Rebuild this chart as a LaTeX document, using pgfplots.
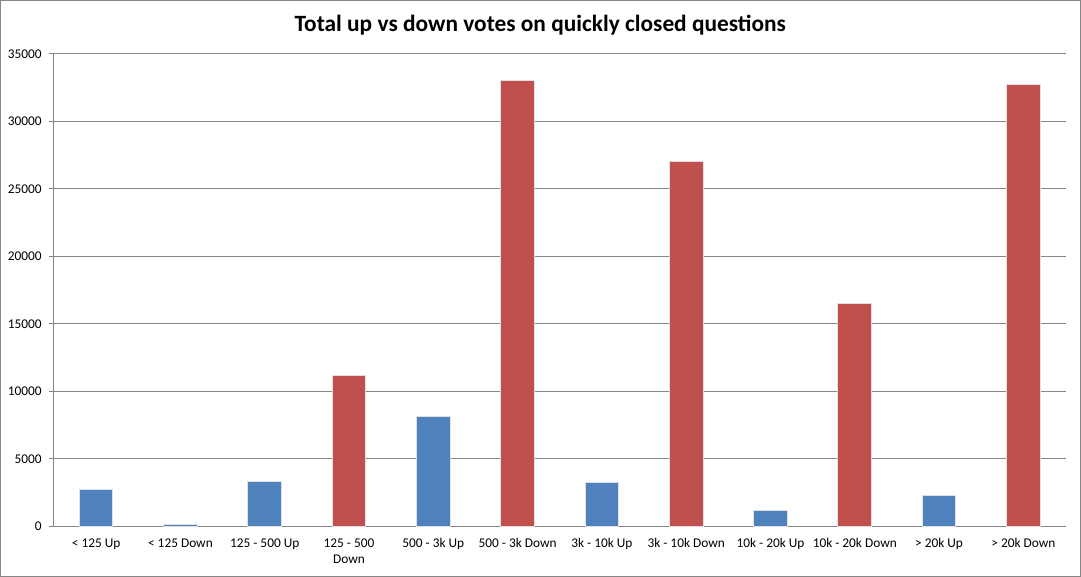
\documentclass[border=0pt]{standalone}
\usepackage{pgfplots}
\pgfplotsset{compat=1.18}
\usepackage{fontspec}
\setmainfont{Carlito}
\definecolor{barblue}{HTML}{4F81BD}
\definecolor{barred}{HTML}{C0504D}
\definecolor{axgray}{HTML}{868686}
\begin{document}
\begin{tikzpicture}
\begin{axis}[
  scale only axis,
  width=758.25pt, height=354pt,
  xmin=-0.5, xmax=11.5,
  ymin=0, ymax=35000,
  ytick={0,5000,...,35000},
  scaled y ticks=false,
  /pgf/number format/1000 sep={},
  /pgf/number format/assume math mode=true,
  ymajorgrids,
  grid style={axgray, line width=0.75pt},
  axis x line*=bottom,
  axis y line*=left,
  axis line style={axgray, line width=0.75pt},
  tick style={axgray, line width=0.75pt},
  tick align=outside,
  major tick length=3.75pt,
  xtick={0,...,11},
  xticklabels={{< 125 Up},{< 125 Down},{125 - 500 Up},{125 - 500\\Down},{500 - 3k Up},{500 - 3k Down},{3k - 10k Up},{3k - 10k Down},{10k - 20k Up},{10k - 20k Down},{> 20k Up},{> 20k Down}},
  x tick style={draw=none},
  minor xtick={-0.5,0.5,...,11.5},
  minor x tick style={axgray, line width=0.75pt},
  minor tick length=3.75pt,
  xticklabel style={font=\fontsize{10}{12}\selectfont, align=center, yshift=-2pt},
  yticklabel style={font=\fontsize{10}{12}\selectfont, xshift=-2pt},
  title={Total up vs down votes on quickly closed questions},
  title style={font=\fontsize{17.5}{20}\selectfont\bfseries, at={(0.5,1)}, anchor=center, yshift=15.75pt, xshift=-14.6pt},
  ybar, bar width=0.4, bar shift=0pt,
  clip=false,
]
\addplot[fill=barblue, draw=black!12, line width=0.75pt] coordinates {
  (0,2750) (1,150) (2,3340) (4,8150) (6,3260) (8,1190) (10,2300)
};
\addplot[fill=barred, draw=black!12, line width=0.75pt] coordinates {
  (3,11190) (5,33060) (7,27060) (9,16530) (11,32770)
};
\coordinate (SW) at (rel axis cs:0,0);
\coordinate (NE) at (rel axis cs:1,1);
\end{axis}
\draw[axgray, line width=0.75pt] ([shift={(-40.1pt,-37.5pt)}]SW) rectangle ([shift={(11.25pt,40.1pt)}]NE);
\end{tikzpicture}
\end{document}
